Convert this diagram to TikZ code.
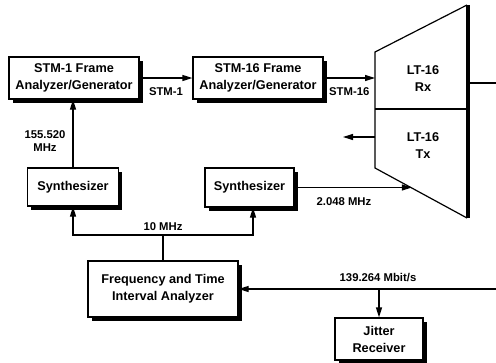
\documentclass[tikz,border=0pt]{standalone}
\usepackage{fontspec}
\setmainfont{Liberation Sans}
\usetikzlibrary{arrows.meta,shadows,calc}
\begin{document}
\begin{tikzpicture}[x=1pt,y=-1pt,
  every node/.style={font=\bfseries\fontsize{12.7}{17}\selectfont},
  box/.style={draw, fill=white, line width=1.2pt, align=center, inner sep=0pt,
    drop shadow={shadow xshift=3.5pt, shadow yshift=-3.5pt, fill=black, opacity=1}},
  lbl/.style={font=\bfseries\fontsize{11.3}{13}\selectfont, align=center, inner sep=0pt},
  wire/.style={line width=1.2pt},
  arr/.style={wire, -{Triangle[length=10pt,width=6pt]}}]
\useasboundingbox (0,0) rectangle (496,362);

% frame analyzers
\node[box, minimum width=130pt, minimum height=42pt] (stm1) at (74,78) {STM-1 Frame\\Analyzer/Generator};
\node[box, minimum width=130pt, minimum height=42pt] (stm16) at (258,78) {STM-16 Frame\\Analyzer/Generator};

% synthesizers
\node[box, minimum width=91pt, minimum height=38pt] (syn1) at (73,187) {Synthesizer};
\node[box, minimum width=89pt, minimum height=39pt] (syn2) at (249.5,187.5) {Synthesizer};

% counter and jitter receiver
\node[box, minimum width=150pt, minimum height=56pt] (ftia) at (163,289) {Frequency and Time\\Interval Analyzer};
\node[box, minimum width=88pt, minimum height=42pt] (jit) at (379,339) {Jitter\\Receiver};

% LT-16 line terminal
\coordinate (trTL) at (375,52);
\coordinate (trTR) at (467,5);
\coordinate (trBR) at (467,218);
\coordinate (trBL) at (375,168);
\draw[line width=1.2pt] (trTR) -- (trTL) -- (trBL) -- (trBR);
\draw[line width=1.2pt] (trTL |- 0,109) -- (trTR |- 0,109);
\draw[line width=4pt] ([xshift=1pt]trTR) -- ([xshift=1pt]trBR);
\node[align=center] (rx) at (423,79) {LT-16\\Rx};
\node[align=center] (tx) at (423,146) {LT-16\\Tx};

% signal paths
\draw[arr] (stm1.east) -- (stm16.west) node[lbl, midway, below=9pt] {STM-1};
\draw[arr] (stm16.east) -- (stm16.east -| trTL) node[lbl, midway, below=9pt] {STM-16};

\coordinate (rxOut) at (496,83);
\draw[wire] (rxOut -| trTR) -- (rxOut);
\coordinate (txIn) at (375,137);
\coordinate (txOut) at (343,137);
\draw[arr] (txIn) -- (txOut);

\draw[arr] (syn1.north) -- (syn1.north |- stm1.south);
\node[lbl] (l155) at (45,141) {155.520\\MHz};

\coordinate (clk) at ($(trBL)!0.4!(trBR)$);
\draw[arr] (syn2.east) -- (syn2.east -| clk);
\node[lbl] (l2048) at (344,202) {2.048 MHz};

\coordinate (bus) at (ftia.north |- 0,235);
\draw[wire] (ftia.north) -- (bus);
\draw[arr] (bus) -| (syn1.south);
\draw[arr] (bus) -| ([xshift=3.5pt]syn2.south);
\node[lbl] (l10) at (163,227) {10 MHz};

\coordinate (in139) at (496,289);
\coordinate (br) at (379,289);
\draw[arr] (in139) -- (ftia.east);
\draw[arr] (br) -- (jit.north);
\node[lbl] (l139) at (378,278) {139.264 Mbit/s};
\end{tikzpicture}
\end{document}
